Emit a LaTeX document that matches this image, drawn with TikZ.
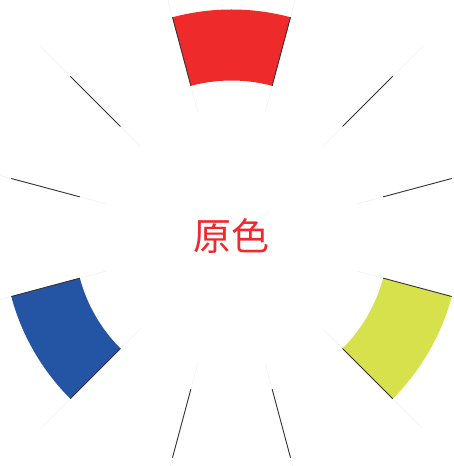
\documentclass[tikz,border=0pt]{standalone}
\usepackage{fontspec}
\newfontfamily\cjk{Noto Sans CJK SC}
\definecolor{wred}{RGB}{238,42,43}
\definecolor{wyellow}{RGB}{214,225,76}
\definecolor{wblue}{RGB}{36,84,164}
\tikzset{
  faintline/.style={draw=black!6, line width=0.6pt},
  edgeline/.style={draw=black!80, line width=0.9pt},
}
\newcommand{\sector}[3]{% color, start, end
  \fill[#1] (#2:228pt) arc[start angle=#2, end angle=#3, radius=228pt]
    -- (#3:157pt) arc[start angle=#3, end angle=#2, radius=157pt] -- cycle;}
\begin{document}
\begin{tikzpicture}[x=1pt,y=1pt]
\useasboundingbox (0,0) rectangle (454,466);
\begin{scope}[shift={(231.5pt,228.5pt)}]
  \foreach \a in {15,45,...,345} { \draw[faintline] (\a:130pt) -- (\a:270pt); }
  \sector{wred}{75}{105}
  \sector{wblue}{195}{225}
  \sector{wyellow}{315}{345}
  \foreach \a in {15,45,...,345} { \draw[edgeline] (\a:157pt) -- (\a:228pt); }
\end{scope}
\node[text=wred, font=\cjk\fontsize{38}{38}\selectfont, inner sep=0pt] (title) at (231.5,230) {原色};
\end{tikzpicture}
\end{document}
